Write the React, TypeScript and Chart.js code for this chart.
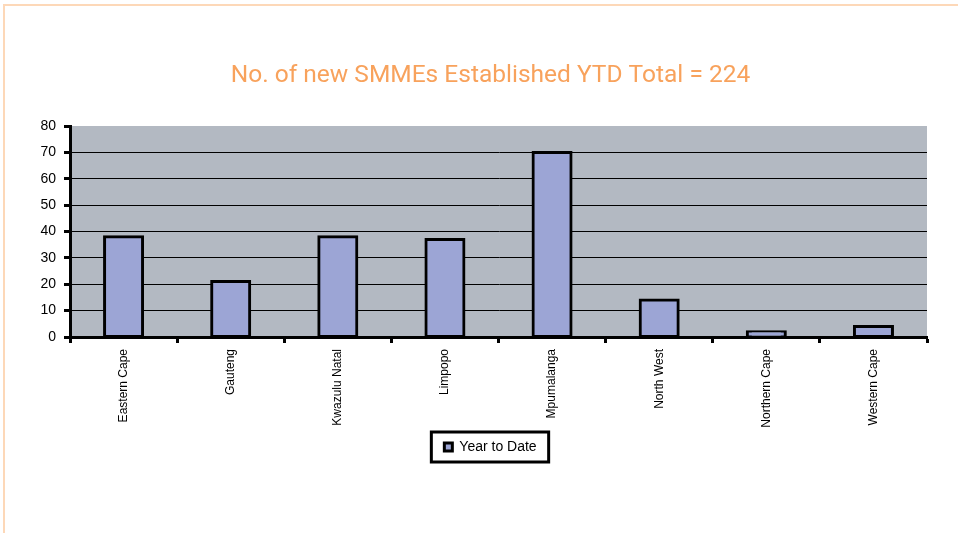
import React, { useEffect, useRef } from "react";
import { Chart, registerables } from "chart.js";

Chart.register(...registerables);

const categories = [
  "Eastern Cape",
  "Gauteng",
  "Kwazulu Natal",
  "Limpopo",
  "Mpumalanga",
  "North West",
  "Northern Cape",
  "Western Cape",
];
const ytdValues = [38, 21, 38, 37, 70, 14, 2, 4];
const seriesName = "Year to Date";
const titleText = "No. of new SMMEs Established YTD Total = 224";
const yMax = 80;
const yStep = 10;

const plotBgPlugin = {
  id: "plotBg",
  beforeDraw(chart: any) {
    const { ctx, chartArea } = chart;
    ctx.save();
    ctx.fillStyle = "#b3b9c2";
    ctx.fillRect(chartArea.left, chartArea.top, chartArea.right - chartArea.left, chartArea.bottom - chartArea.top);
    ctx.restore();
  },
};

// shift the title and legend boxes so they are centred like the slide's text
const centerShiftPlugin = {
  id: "centerShift",
  afterLayout(chart: any) {
    const shift = 12;
    const boxes = [chart.titleBlock, chart.legend];
    for (const b of boxes) {
      if (!b) continue;
      b.left += shift;
      b.right += shift;
    }
  },
};

const legendBoxPlugin = {
  id: "legendBox",
  afterDraw(chart: any) {
    const lg = chart.legend;
    if (!lg || !lg.legendHitBoxes || !lg.legendHitBoxes.length) return;
    const hb = lg.legendHitBoxes[0];
    const { ctx } = chart;
    const cy = hb.top + hb.height / 2;
    ctx.save();
    ctx.strokeStyle = "#000";
    ctx.lineWidth = 3;
    ctx.strokeRect(hb.left - 13, cy - 15, hb.width + 25, 30);
    ctx.restore();
  },
};

export default function App() {
  const ref = useRef<HTMLCanvasElement>(null);
  useEffect(() => {
    if (!ref.current) return;
    const chart = new Chart(ref.current, {
      type: "bar",
      data: {
        labels: categories,
        datasets: [
          {
            label: seriesName,
            data: ytdValues,
            backgroundColor: "#9ca5d5",
            borderColor: "#000",
            borderWidth: 3,
            borderSkipped: false,
            inflateAmount: 1.5,
            categoryPercentage: 1,
            barPercentage: 0.355,
          },
        ],
      },
      options: {
        animation: false,
        responsive: false,
        maintainAspectRatio: false,
        layout: { padding: { left: 30, right: 31, top: 0, bottom: 69 } },
        plugins: {
          title: {
            display: true,
            text: titleText,
            color: "#f8a25c",
            font: { family: "Roboto", size: 24.5, weight: "normal" },
            padding: { top: 61, bottom: 35.6 },
          },
          legend: {
            display: true,
            position: "bottom",
            labels: {
              color: "#000",
              font: { family: "'Liberation Sans', Arial", size: 14 },
              boxWidth: 8,
              boxHeight: 8,
              padding: 7,
            },
          },
          tooltip: { enabled: false },
        },
        scales: {
          x: {
            offset: true,
            afterFit(scale: any) {
              scale.height = 96;
            },
            border: { display: true, color: "#000", width: 3 },
            grid: {
              offset: true,
              drawOnChartArea: false,
              drawTicks: true,
              tickLength: 6,
              tickWidth: 3,
              tickColor: "#000",
              color: "#000",
            },
            ticks: {
              autoSkip: false,
              maxRotation: 90,
              minRotation: 90,
              padding: 6,
              color: "#000",
              font: { family: "'Liberation Sans', Arial", size: 12 },
            },
          },
          y: {
            min: 0,
            max: yMax,
            afterFit(scale: any) {
              scale.width = 40;
            },
            border: { display: true, color: "#000", width: 3 },
            grid: {
              color: (c: any) => (c.tick && c.tick.value === yMax ? "rgba(0,0,0,0)" : "#000"),
              lineWidth: 1,
              tickColor: "#000",
              tickLength: 6,
              tickWidth: 3,
            },
            ticks: {
              stepSize: yStep,
              padding: 8,
              color: "#000",
              font: { family: "'Liberation Sans', Arial", size: 14 },
            },
          },
        },
      },
      plugins: [plotBgPlugin, centerShiftPlugin, legendBoxPlugin],
    } as any);
    return () => chart.destroy();
  }, []);

  return (
    <div style={{ position: "fixed", left: 0, top: 0, width: 958, height: 533, background: "#fff" }}>
      <div
        style={{
          position: "absolute",
          left: 3,
          top: 4,
          width: 955,
          height: 529,
          borderTop: "2px solid #fdd8b8",
          borderLeft: "2px solid #fdd8b8",
          boxSizing: "border-box",
        }}
      />
      <canvas ref={ref} width={958} height={533} style={{ position: "absolute", left: 0, top: 0 }} />
    </div>
  );
}
